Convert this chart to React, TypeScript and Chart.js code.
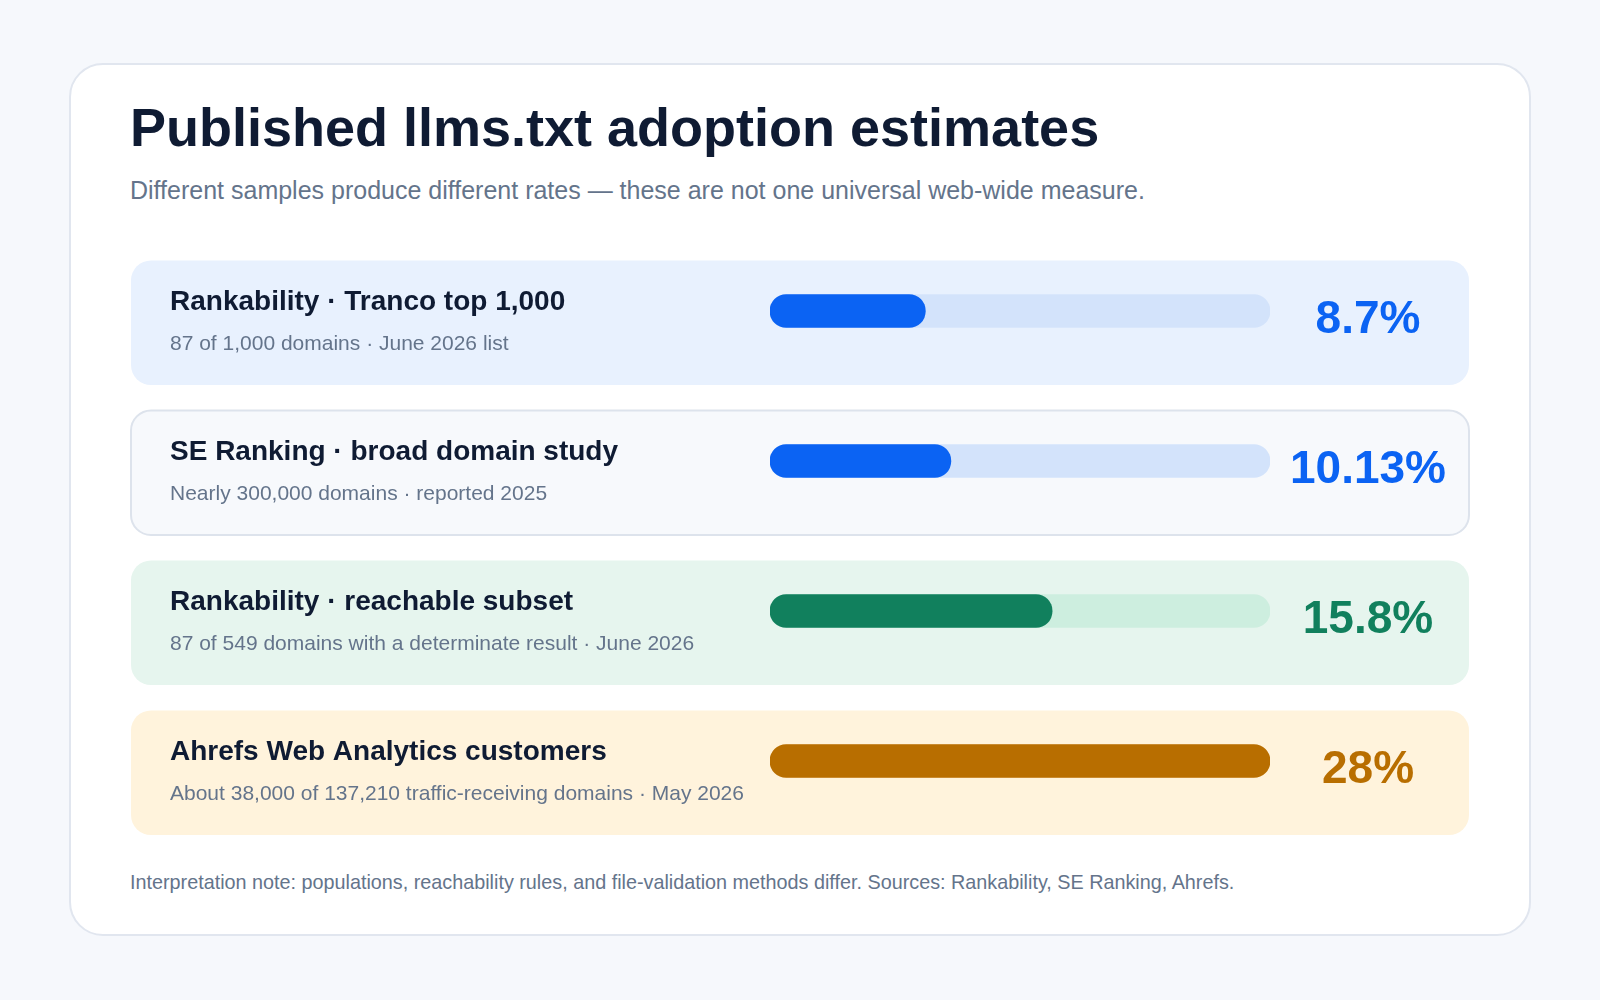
import React, { useEffect, useRef } from "react";
import { Chart, registerables } from "chart.js";

Chart.register(...registerables);

const categories = [
  "Rankability · Tranco top 1,000",
  "SE Ranking · broad domain study",
  "Rankability · reachable subset",
  "Ahrefs Web Analytics customers",
];
const details = [
  "87 of 1,000 domains · June 2026 list",
  "Nearly 300,000 domains · reported 2025",
  "87 of 549 domains with a determinate result · June 2026",
  "About 38,000 of 137,210 traffic-receiving domains · May 2026",
];
const rates = [8.7, 10.13, 15.8, 28];
const scaleMax = 28;

const rowBg = ["#e8f1fe", "#f7f9fc", "#e6f5ee", "#fff3dc"];
const rowBorder = [null, "#dde3ec", null, null];
const trackColors = ["#d3e3fb", "#d3e3fb", "#cdeedf", "#fbe3bb"];
const fillColors = ["#0b63f3", "#0b63f3", "#11805d", "#b86e00"];

const FONT = '"Liberation Sans", Arial, Helvetica, sans-serif';

function roundRect(ctx: CanvasRenderingContext2D, x: number, y: number, w: number, h: number, r: number) {
  ctx.beginPath();
  ctx.moveTo(x + r, y);
  ctx.lineTo(x + w - r, y);
  ctx.arcTo(x + w, y, x + w, y + r, r);
  ctx.lineTo(x + w, y + h - r);
  ctx.arcTo(x + w, y + h, x + w - r, y + h, r);
  ctx.lineTo(x + r, y + h);
  ctx.arcTo(x, y + h, x, y + h - r, r);
  ctx.lineTo(x, y + r);
  ctx.arcTo(x, y, x + r, y, r);
  ctx.closePath();
}

const rowsPlugin = {
  id: "rows",
  beforeDatasetsDraw(chart: any) {
    const ctx = chart.ctx as CanvasRenderingContext2D;
    const y = chart.scales.y;
    ctx.save();
    categories.forEach((_, i) => {
      const c = y.getPixelForValue(i);
      const top = c - 50.5;
      const h = 124.5;
      roundRect(ctx, 1, top, chart.width - 2, h, 20);
      ctx.fillStyle = rowBg[i];
      ctx.fill();
      if (rowBorder[i]) {
        roundRect(ctx, 1, top, chart.width - 2, h, 20);
        ctx.strokeStyle = rowBorder[i] as string;
        ctx.lineWidth = 2;
        ctx.stroke();
      }
    });
    ctx.restore();
  },
  afterDatasetsDraw(chart: any) {
    const ctx = chart.ctx as CanvasRenderingContext2D;
    const y = chart.scales.y;
    ctx.save();
    categories.forEach((label, i) => {
      const c = y.getPixelForValue(i);
      const top = c - 50.5;
      ctx.textAlign = "left";
      ctx.textBaseline = "alphabetic";
      ctx.fillStyle = "#0f1b33";
      ctx.font = `bold 28px ${FONT}`;
      ctx.fillText(label, 40, top + 49);
      ctx.fillStyle = "#64748b";
      ctx.font = `21px ${FONT}`;
      ctx.fillText(details[i], 40, top + 89.5);
      ctx.textAlign = "center";
      ctx.fillStyle = fillColors[i];
      ctx.font = `bold 46px ${FONT}`;
      ctx.fillText(`${rates[i]}%`, 1238, top + 72.5);
    });
    ctx.restore();
  },
};

function RatesChart() {
  const ref = useRef<HTMLCanvasElement | null>(null);
  useEffect(() => {
    if (!ref.current) return;
    const chart = new Chart(ref.current, {
      type: "bar",
      data: {
        labels: categories,
        datasets: [
          {
            label: "Adoption rate",
            data: rates,
            backgroundColor: fillColors,
            barThickness: 33,
            borderRadius: 17,
            borderSkipped: false,
            grouped: false,
            order: 1,
          } as any,
          {
            label: "Track",
            data: categories.map(() => scaleMax),
            backgroundColor: trackColors,
            barThickness: 33,
            borderRadius: 17,
            borderSkipped: false,
            grouped: false,
            order: 2,
          } as any,
        ],
      },
      options: {
        indexAxis: "y",
        animation: false,
        responsive: false,
        events: [],
        layout: { padding: { left: 640, right: 200, top: 0, bottom: 0 } },
        scales: {
          x: { display: false, min: 0, max: scaleMax, grid: { display: false } },
          y: { display: false, grid: { display: false } },
        },
        plugins: {
          legend: { display: false },
          tooltip: { enabled: false },
        },
      },
      plugins: [rowsPlugin],
    });
    return () => chart.destroy();
  }, []);
  return (
    <canvas
      ref={ref}
      width={1340}
      height={600}
      style={{ position: "absolute", left: 130, top: 235.5, width: 1340, height: 600, display: "block" }}
    />
  );
}

export default function App() {
  return (
    <div
      style={{
        position: "fixed",
        left: 0,
        top: 0,
        width: 1600,
        height: 1000,
        background: "#f6f8fc",
        fontFamily: FONT,
        overflow: "hidden",
      }}
    >
      <div
        style={{
          position: "absolute",
          left: 69,
          top: 63,
          width: 1462,
          height: 873,
          boxSizing: "border-box",
          background: "#ffffff",
          border: "2px solid #e1e6ef",
          borderRadius: 34,
        }}
      />
      <div
        style={{
          position: "absolute",
          left: 130,
          top: 146 - 0.8465 * 54,
          fontSize: 54,
          lineHeight: 1,
          fontWeight: 700,
          color: "#0f1b33",
          whiteSpace: "nowrap",
        }}
      >
        Published llms.txt adoption estimates
      </div>
      <div
        style={{
          position: "absolute",
          left: 130,
          top: 199 - 0.8465 * 25,
          fontSize: 25,
          lineHeight: 1,
          color: "#64748b",
          whiteSpace: "nowrap",
        }}
      >
        Different samples produce different rates — these are not one universal web-wide measure.
      </div>
      <RatesChart />
      <div
        style={{
          position: "absolute",
          left: 130,
          top: 890 - 0.8465 * 19.8,
          fontSize: 19.8,
          lineHeight: 1,
          color: "#64748b",
          whiteSpace: "nowrap",
        }}
      >
        Interpretation note: populations, reachability rules, and file-validation methods differ. Sources: Rankability, SE Ranking, Ahrefs.
      </div>
    </div>
  );
}
